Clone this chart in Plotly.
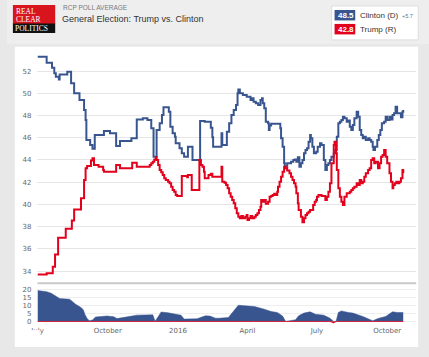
import plotly.graph_objects as go

# ---------------- data ----------------
clinton_dates = [
    "2015-07-01", "2015-07-13", "2015-07-20", "2015-07-23", "2015-07-25", "2015-07-29", "2015-07-30",
    "2015-08-09", "2015-08-14", "2015-08-18", "2015-08-25", "2015-08-31", "2015-09-02", "2015-09-03",
    "2015-09-08", "2015-09-11", "2015-09-14", "2015-09-26", "2015-10-04", "2015-10-12", "2015-10-17",
    "2015-11-01", "2015-11-08", "2015-11-16", "2015-11-22", "2015-11-27", "2015-11-30", "2015-12-04",
    "2015-12-08", "2015-12-11", "2015-12-13", "2015-12-20", "2015-12-22", "2015-12-25", "2015-12-28",
    "2015-12-29", "2016-01-03", "2016-01-06", "2016-01-09", "2016-01-14", "2016-01-20", "2016-01-30",
    "2016-02-05", "2016-02-13", "2016-02-15", "2016-02-16", "2016-02-27", "2016-02-28", "2016-03-05",
    "2016-03-08", "2016-03-11", "2016-03-14", "2016-03-17", "2016-03-19", "2016-03-20", "2016-03-22",
    "2016-03-26", "2016-03-31", "2016-04-05", "2016-04-07", "2016-04-09", "2016-04-12", "2016-04-15",
    "2016-04-18", "2016-04-20", "2016-04-21", "2016-04-23", "2016-04-25", "2016-04-28", "2016-04-29",
    "2016-04-30", "2016-05-02", "2016-05-14", "2016-05-15", "2016-05-17", "2016-05-19", "2016-05-20",
    "2016-05-23", "2016-05-28", "2016-05-31", "2016-06-02", "2016-06-04", "2016-06-06", "2016-06-08",
    "2016-06-10", "2016-06-12", "2016-06-14", "2016-06-16", "2016-06-18", "2016-06-20", "2016-06-22",
    "2016-06-23", "2016-06-25", "2016-06-27", "2016-06-30", "2016-07-02", "2016-07-05", "2016-07-07",
    "2016-07-10", "2016-07-12", "2016-07-14", "2016-07-16", "2016-07-18", "2016-07-20", "2016-07-23",
    "2016-07-25", "2016-07-27", "2016-07-29", "2016-07-31", "2016-08-02", "2016-08-04", "2016-08-06",
    "2016-08-09", "2016-08-11", "2016-08-13", "2016-08-15", "2016-08-17", "2016-08-19", "2016-08-22",
    "2016-08-24", "2016-08-26", "2016-08-28", "2016-08-30", "2016-09-01", "2016-09-03", "2016-09-06",
    "2016-09-08", "2016-09-10", "2016-09-12", "2016-09-13", "2016-09-15", "2016-09-18", "2016-09-20",
    "2016-09-22", "2016-09-24", "2016-09-27", "2016-09-29", "2016-10-01", "2016-10-04", "2016-10-06",
    "2016-10-08", "2016-10-10", "2016-10-12", "2016-10-14", "2016-10-19", "2016-10-21", "2016-10-22",
]
clinton_values = [
    53.3, 52.75, 52.3, 51.8, 51.5, 51.25, 51.7,
    51.95, 50.9, 50.0, 49.4, 48.5, 47.6, 45.8,
    45.35, 45.0, 46.25, 46.6, 46.4, 45.25, 45.7,
    45.95, 47.65, 47.75, 47.6, 46.85, 44.3, 46.7,
    47.3, 48.05, 48.75, 48.35, 47.0, 46.4, 46.1,
    45.5, 45.05, 44.6, 44.3, 45.2, 44.0, 47.5,
    47.45, 46.9, 46.05, 45.2, 46.4, 45.35, 46.55,
    47.3, 48.05, 48.5, 48.95, 50.0, 50.35, 50.0,
    49.85, 49.7, 49.4, 49.55, 49.25, 49.1, 48.95,
    49.4, 49.55, 49.1, 48.65, 47.45, 47.3, 46.7,
    47.1, 47.25, 46.85, 45.95, 45.2, 43.7, 43.4,
    43.7, 43.85, 44.0, 44.05, 43.85, 44.25, 43.4,
    43.7, 44.0, 44.6, 44.9, 45.05, 45.65, 46.25,
    45.95, 45.2, 44.6, 44.75, 45.2, 45.5, 45.35,
    44.0, 43.1, 43.55, 43.7, 44.0, 44.3, 44.6,
    44.9, 46.1, 47.3, 47.45, 47.6, 47.9, 47.75,
    47.45, 47.55, 47.0, 46.7, 47.15, 47.75, 48.35,
    47.9, 46.7, 46.25, 45.95, 46.1, 45.8, 45.95,
    45.8, 45.65, 45.2, 44.9, 45.2, 45.8, 46.25,
    46.7, 47.3, 47.45, 47.9, 47.6, 47.9, 47.65,
    48.05, 48.2, 48.8, 48.2, 47.85, 48.35, 48.5,
]

trump_dates = [
    "2015-07-01", "2015-07-13", "2015-07-21", "2015-07-24", "2015-07-28", "2015-08-07", "2015-08-15",
    "2015-08-18", "2015-08-27", "2015-08-31", "2015-09-02", "2015-09-04", "2015-09-09", "2015-09-11",
    "2015-09-13", "2015-09-19", "2015-09-25", "2015-09-26", "2015-10-12", "2015-10-17", "2015-11-02",
    "2015-11-08", "2015-11-25", "2015-11-27", "2015-11-29", "2015-12-01", "2015-12-03", "2015-12-04",
    "2015-12-06", "2015-12-08", "2015-12-10", "2015-12-12", "2015-12-14", "2015-12-16", "2015-12-19",
    "2015-12-21", "2015-12-23", "2015-12-25", "2015-12-27", "2015-12-29", "2015-12-31", "2016-01-06",
    "2016-01-13", "2016-01-14", "2016-01-19", "2016-01-29", "2016-01-31", "2016-02-02", "2016-02-04",
    "2016-02-05", "2016-02-10", "2016-02-13", "2016-02-15", "2016-02-27", "2016-02-28", "2016-03-02",
    "2016-03-04", "2016-03-06", "2016-03-08", "2016-03-10", "2016-03-12", "2016-03-14", "2016-03-16",
    "2016-03-18", "2016-03-20", "2016-03-22", "2016-03-24", "2016-03-26", "2016-03-29", "2016-03-31",
    "2016-04-01", "2016-04-03", "2016-04-05", "2016-04-07", "2016-04-10", "2016-04-12", "2016-04-14",
    "2016-04-16", "2016-04-18", "2016-04-19", "2016-04-21", "2016-04-23", "2016-04-25", "2016-04-28",
    "2016-04-30", "2016-05-02", "2016-05-04", "2016-05-06", "2016-05-08", "2016-05-10", "2016-05-11",
    "2016-05-13", "2016-05-15", "2016-05-17", "2016-05-19", "2016-05-21", "2016-05-23", "2016-05-26",
    "2016-05-28", "2016-05-30", "2016-06-01", "2016-06-03", "2016-06-04", "2016-06-06", "2016-06-07",
    "2016-06-10", "2016-06-12", "2016-06-14", "2016-06-16", "2016-06-18", "2016-06-20", "2016-06-22",
    "2016-06-26", "2016-06-28", "2016-06-30", "2016-07-01", "2016-07-03", "2016-07-07", "2016-07-12",
    "2016-07-14", "2016-07-16", "2016-07-18", "2016-07-20", "2016-07-23", "2016-07-24", "2016-07-26",
    "2016-07-27", "2016-07-29", "2016-07-31", "2016-08-02", "2016-08-04", "2016-08-06", "2016-08-09",
    "2016-08-13", "2016-08-15", "2016-08-17", "2016-08-19", "2016-08-22", "2016-08-24", "2016-08-26",
    "2016-08-28", "2016-08-30", "2016-09-01", "2016-09-03", "2016-09-06", "2016-09-08", "2016-09-10",
    "2016-09-12", "2016-09-14", "2016-09-16", "2016-09-19", "2016-09-21", "2016-09-23", "2016-09-25",
    "2016-09-27", "2016-09-29", "2016-10-01", "2016-10-04", "2016-10-06", "2016-10-08", "2016-10-09",
    "2016-10-11", "2016-10-13", "2016-10-15", "2016-10-17", "2016-10-19", "2016-10-21", "2016-10-22",
]
trump_values = [
    33.7, 33.8, 34.4, 35.5, 37.0, 37.8, 38.55,
    39.55, 40.55, 42.2, 43.25, 43.45, 43.95, 44.15,
    43.55, 43.4, 43.1, 42.95, 43.55, 43.25, 43.75,
    43.4, 43.55, 43.7, 43.85, 44.05, 44.25, 44.0,
    43.55, 43.1, 42.9, 42.65, 42.35, 42.2, 42.05,
    41.9, 41.6, 41.3, 41.15, 40.85, 40.75, 42.55,
    42.45, 42.65, 41.3, 44.0, 43.55, 43.4, 42.95,
    42.35, 42.65, 42.75, 42.5, 43.4, 42.05, 41.95,
    41.75, 41.45, 41.0, 40.7, 40.4, 40.1, 39.65,
    39.2, 38.9, 38.75, 38.95, 38.75, 38.9, 39.05,
    38.6, 38.75, 38.95, 38.75, 38.9, 39.05, 39.2,
    39.5, 39.8, 40.4, 40.25, 40.4, 40.05, 40.25,
    40.7, 40.75, 40.85, 40.95, 40.85, 41.15, 41.6,
    42.05, 42.5, 42.95, 43.4, 43.25, 43.05, 42.8,
    42.5, 42.2, 41.9, 41.6, 41.0, 40.1, 39.5,
    38.9, 38.4, 38.75, 39.05, 39.2, 39.35, 39.5,
    39.95, 40.25, 40.4, 40.7, 40.85, 40.75, 40.4,
    40.7, 41.15, 41.9, 43.7, 45.35, 45.65, 44.6,
    43.1, 41.45, 40.7, 40.25, 39.95, 40.7, 41.0,
    41.15, 41.3, 41.45, 41.6, 41.9, 41.75, 42.2,
    41.9, 42.05, 42.5, 42.8, 43.1, 43.25, 44.0,
    44.15, 43.7, 43.85, 43.25, 43.7, 44.3, 44.45,
    44.9, 44.3, 43.7, 42.8, 42.05, 41.45, 41.75,
    41.9, 42.05, 41.9, 42.05, 42.35, 43.1, 42.8,
]

spread_dates = [
    "2015-07-01", "2015-07-13", "2015-07-19", "2015-07-25", "2015-07-30", "2015-08-12", "2015-08-16",
    "2015-08-20", "2015-08-27", "2015-08-30", "2015-09-01", "2015-09-04", "2015-09-07", "2015-09-11",
    "2015-09-15", "2015-09-26", "2015-09-30", "2015-10-09", "2015-10-13", "2015-10-19", "2015-11-08",
    "2015-11-29", "2015-12-02", "2015-12-06", "2015-12-10", "2015-12-19", "2015-12-25", "2016-01-05",
    "2016-01-09", "2016-01-26", "2016-02-06", "2016-02-12", "2016-02-19", "2016-02-23", "2016-03-07",
    "2016-03-14", "2016-03-20", "2016-03-29", "2016-04-10", "2016-04-23", "2016-05-02", "2016-05-10",
    "2016-05-17", "2016-05-21", "2016-05-26", "2016-06-03", "2016-06-07", "2016-06-14", "2016-06-22",
    "2016-06-29", "2016-07-10", "2016-07-18", "2016-07-23", "2016-07-26", "2016-07-29", "2016-08-02",
    "2016-08-11", "2016-08-17", "2016-08-30", "2016-09-12", "2016-09-19", "2016-09-29", "2016-10-08",
    "2016-10-14", "2016-10-22",
]
spread_values = [
    19.6, 18.9, 17.9, 15.8, 14.5, 14.1, 12.4,
    10.9, 8.8, 7.4, 4.6, 1.9, 0.4, 0.9,
    2.8, 3.0, 3.5, 3.0, 1.8, 2.3, 4.0,
    4.2, 0.2, 3.0, 6.0, 5.5, 5.0, 4.0,
    1.5, 1.7, 3.6, 3.4, 2.1, 2.0, 2.5,
    6.7, 10.3, 9.9, 9.5, 7.8, 6.3, 5.7,
    3.4, -0.4, 0.4, 1.1, 3.6, 5.3, 6.1,
    4.6, 4.0, 2.1, -0.9, 0.0, 5.7, 6.7,
    5.7, 5.3, 3.2, 0.4, 1.9, 3.2, 6.1,
    5.7, 5.7,
]

main_ticks = [34, 36, 38, 40, 42, 44, 46, 48, 50, 52]
spread_ticks = [0, 5, 10, 15, 20]
x_tick_dates = ["2015-07-01", "2015-10-01", "2016-01-01", "2016-04-01", "2016-07-01", "2016-10-01"]
x_tick_labels = ["July", "October", "2016", "April", "July", "October"]
x_range = ["2015-07-01", "2016-11-08"]

clinton_last = "48.5"
trump_last = "42.8"
lead_text = "+5.7"

# ---------------- styling helpers ----------------
W, H = 429, 357
BLUE = "#38558f"
RED = "#e2001d"
GRID = "#e6e6e6"
TICKC = "#666666"
TICKFONT = dict(family="DejaVu Sans", size=7, color=TICKC)


def fx(p):
    return p / W


def fy(p):
    return 1 - p / H


fig = go.Figure()

fig.add_trace(go.Scatter(x=clinton_dates, y=clinton_values, mode="lines", line_shape="hv",
                         line=dict(color=BLUE, width=2), xaxis="x", yaxis="y",
                         name="Clinton (D)", showlegend=False, hoverinfo="skip"))
fig.add_trace(go.Scatter(x=trump_dates, y=trump_values, mode="lines", line_shape="hv",
                         line=dict(color=RED, width=2), xaxis="x", yaxis="y",
                         name="Trump (R)", showlegend=False, hoverinfo="skip"))

pos_spread = [max(v, 0) for v in spread_values]
neg_spread = [min(v, 0) for v in spread_values]
fig.add_trace(go.Scatter(x=spread_dates, y=pos_spread, mode="lines", fill="tozeroy",
                         fillcolor=BLUE, line=dict(color=BLUE, width=0.5),
                         xaxis="x2", yaxis="y2", showlegend=False, hoverinfo="skip"))
fig.add_trace(go.Scatter(x=spread_dates, y=neg_spread, mode="lines", fill="tozeroy",
                         fillcolor=RED, line=dict(color=RED, width=0.8),
                         xaxis="x2", yaxis="y2", showlegend=False, hoverinfo="skip"))

xdom = [fx(31), fx(416)]
fig.update_layout(
    width=W, height=H,
    margin=dict(l=0, r=0, t=0, b=0),
    paper_bgcolor="#e8e8e8",
    plot_bgcolor="rgba(0,0,0,0)",
    showlegend=False,
    xaxis=dict(domain=xdom, anchor="y", range=x_range, type="date",
               showticklabels=False, showgrid=False, zeroline=False, showline=False, ticks=""),
    yaxis=dict(domain=[fy(283), fy(49)], anchor="x", range=[33.0, 54.0],
               tickvals=main_ticks, showgrid=True, gridcolor=GRID, gridwidth=1,
               zeroline=False, showline=False, tickfont=TICKFONT, ticklabelstandoff=5),
    xaxis2=dict(domain=xdom, anchor="y2", range=x_range, type="date", matches="x",
                tickvals=x_tick_dates, ticktext=x_tick_labels, showgrid=False,
                zeroline=False, showline=False, ticks="", tickfont=TICKFONT,
                ticklabelstandoff=0),
    yaxis2=dict(domain=[fy(326), fy(286)], anchor="x2", range=[-2.3, 23],
                tickvals=spread_ticks, showgrid=True, gridcolor="#eeeeee", gridwidth=1,
                zeroline=False, showline=False, tickfont=TICKFONT, ticklabelstandoff=5),
)

shapes = [
    # white chart panel
    dict(type="rect", xref="paper", yref="paper", x0=fx(8), x1=fx(418), y0=fy(348), y1=fy(47),
         fillcolor="white", line=dict(width=0), layer="below"),
    # header lighter band
    dict(type="rect", xref="paper", yref="paper", x0=0, x1=1, y0=fy(44), y1=1,
         fillcolor="#eeeeee", line=dict(width=0), layer="below"),
    # separator between the two charts
    dict(type="line", xref="paper", yref="paper", x0=fx(31), x1=fx(416), y0=fy(284), y1=fy(284),
         line=dict(color="#c9c9c9", width=2), layer="above"),
    # logo
    dict(type="rect", xref="paper", yref="paper", x0=fx(6), x1=fx(49), y0=fy(24), y1=fy(5),
         fillcolor="#d8141d", line=dict(width=0), layer="above"),
    dict(type="rect", xref="paper", yref="paper", x0=fx(6), x1=fx(49), y0=fy(33), y1=fy(23.5),
         fillcolor="#111111", line=dict(width=0), layer="above"),
    # legend box
    dict(type="rect", xref="paper", yref="paper", x0=fx(330), x1=fx(418), y0=fy(40), y1=fy(6),
         fillcolor="white", line=dict(color="#dddddd", width=1), layer="above"),
    dict(type="rect", xref="paper", yref="paper", x0=fx(333), x1=fx(354), y0=fy(20.5), y1=fy(10),
         fillcolor=BLUE, line=dict(width=0), layer="above"),
    dict(type="rect", xref="paper", yref="paper", x0=fx(333), x1=fx(354), y0=fy(34.5), y1=fy(24),
         fillcolor=RED, line=dict(width=0), layer="above"),
    # hide the cut-off part of the first month label
    dict(type="rect", xref="paper", yref="paper", x0=fx(9), x1=fx(33), y0=fy(346), y1=fy(331),
         fillcolor="white", line=dict(width=0), layer="above"),
]
fig.update_layout(shapes=shapes)

serif = "Liberation Serif"
sans = "Liberation Sans"
ann = [
    dict(text="REAL", x=fx(8), y=fy(12), font=dict(family=serif, size=7.5, color="white")),
    dict(text="CLEAR", x=fx(8), y=fy(19.5), font=dict(family=serif, size=7.5, color="white")),
    dict(text="POLITICS", x=fx(7), y=fy(28.5), font=dict(family=serif, size=7.5, color="white")),
    dict(text="RCP POLL AVERAGE", x=fx(56), y=fy(8), font=dict(family=sans, size=6.5, color="#7a7a7a")),
    dict(text="General Election: Trump vs. Clinton", x=fx(55), y=fy(19.5),
         font=dict(family=sans, size=9, color="#333333")),
    dict(text="<b>" + clinton_last + "</b>", x=fx(335), y=fy(15.5), font=dict(family=sans, size=8, color="white")),
    dict(text="<b>" + trump_last + "</b>", x=fx(335), y=fy(29.5), font=dict(family=sans, size=8, color="white")),
    dict(text="Clinton (D)", x=fx(358), y=fy(15.5), font=dict(family=sans, size=8, color="#333333")),
    dict(text=lead_text, x=fx(401), y=fy(16.5), font=dict(family=sans, size=5.5, color="#5b7596")),
    dict(text="Trump (R)", x=fx(358), y=fy(29.5), font=dict(family=sans, size=8, color="#333333")),
]
for a in ann:
    a.update(xref="paper", yref="paper", xanchor="left", yanchor="middle", showarrow=False, borderpad=0)
fig.update_layout(annotations=ann)

fig.write_html("out.html", config={"displayModeBar": False},
               post_script="document.body.style.margin='0';document.body.style.overflow='hidden';")
